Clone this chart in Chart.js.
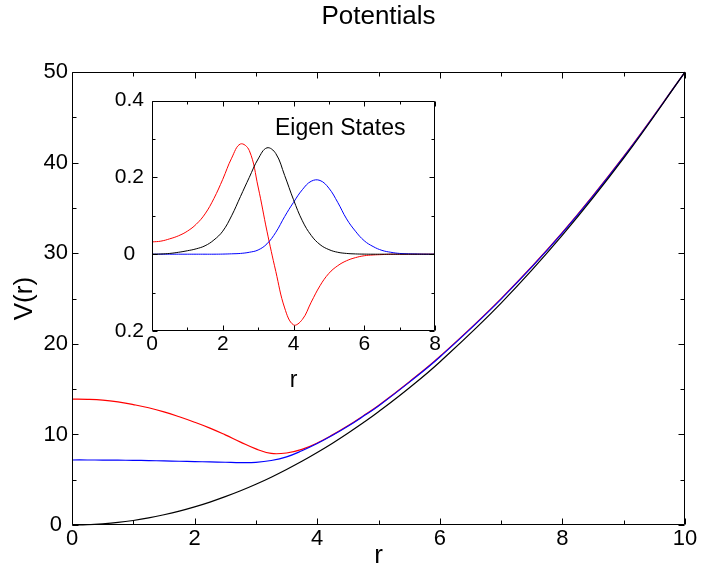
<!DOCTYPE html>
<html>
<head>
<meta charset="utf-8">
<script src="https://cdn.jsdelivr.net/npm/chart.js@4/dist/chart.umd.min.js"></script>
<style>
html,body{margin:0;padding:0;background:#fff;}
#wrap{position:relative;width:701px;height:571px;overflow:hidden;}
canvas{position:absolute;}
</style>
</head>
<body>
<div id="wrap">
<canvas id="main" width="701" height="571" style="left:0;top:0;"></canvas>
<canvas id="inset" width="360" height="320" style="left:90px;top:80px;"></canvas>
</div>
<script>
// ---------- Main chart data: potentials V(r) ----------
const rMain = [0, 0.25, 0.5, 0.75, 1, 1.25, 1.5, 1.75, 2, 2.25, 2.5, 2.75, 3, 3.25, 3.5, 3.75, 4, 4.25, 4.5, 4.75, 5, 5.5, 6, 7, 8, 9, 10];
const vBare = [0, 0.03, 0.13, 0.28, 0.5, 0.78, 1.13, 1.53, 2, 2.53, 3.13, 3.78, 4.5, 5.28, 6.13, 7.03, 8, 9.03, 10.13, 11.28, 12.5, 15.13, 18, 24.5, 32, 40.5, 50];
const vRed  = [13.9, 13.88, 13.8, 13.6, 13.3, 12.95, 12.5, 11.95, 11.35, 10.7, 9.95, 9.15, 8.4, 7.9, 7.95, 8.35, 9.05, 9.95, 10.95, 12.05, 13.2, 15.8, 18.6, 25.0, 32.3, 40.7, 50];
const vBlue = [7.18, 7.18, 7.17, 7.16, 7.14, 7.11, 7.08, 7.04, 7.0, 6.97, 6.93, 6.89, 6.92, 7.12, 7.52, 8.2, 9.0, 9.9, 10.9, 12.0, 13.15, 15.75, 18.55, 24.95, 32.25, 40.65, 50];
const mainXTicks = [0, 2, 4, 6, 8, 10];
const mainYTicks = [0, 10, 20, 30, 40, 50];

// ---------- Inset data: eigen states ----------
const rInset = [0, 0.25, 0.5, 0.75, 1, 1.25, 1.5, 1.75, 2, 2.25, 2.5, 2.75, 3, 3.25, 3.5, 3.75, 4, 4.25, 4.5, 4.75, 5, 5.25, 5.5, 5.75, 6, 6.25, 6.5, 6.75, 7, 7.25, 7.5, 7.75, 8];
const psiBlack = [0, 0.0005, 0.002, 0.005, 0.009, 0.014, 0.022, 0.037, 0.06, 0.1, 0.15, 0.2, 0.248, 0.277, 0.262, 0.205, 0.142, 0.087, 0.049, 0.025, 0.012, 0.005, 0.002, 0.0007, 0.0002, 0, 0, 0, 0, 0, 0, 0, 0];
const psiRed   = [0.032, 0.034, 0.040, 0.048, 0.06, 0.078, 0.105, 0.145, 0.195, 0.25, 0.287, 0.27, 0.175, 0.06, -0.045, -0.14, -0.184, -0.17, -0.125, -0.082, -0.05, -0.03, -0.017, -0.009, -0.004, -0.002, -0.001, 0, 0, 0, 0, 0, 0];
const psiBlue  = [0, 0, 0, 0, 0, 0, 0, 0, 0.0003, 0.001, 0.002, 0.005, 0.011, 0.027, 0.057, 0.098, 0.135, 0.168, 0.19, 0.192, 0.172, 0.135, 0.092, 0.06, 0.035, 0.02, 0.01, 0.005, 0.002, 0.001, 0.0005, 0, 0];
const insetXTicks = [0, 2, 4, 6, 8];
const insetYTickValues = [-0.2, 0, 0.2, 0.4];
const insetYTickLabels = ["0.2", "0", "0.2", "0.4"];

const FONT = '"Liberation Sans", Arial, Helvetica, sans-serif';
Chart.defaults.font.family = FONT;
Chart.defaults.color = '#000';

function pts(xs, ys) { return xs.map((x, i) => ({x: x, y: ys[i]})); }
function line(data, color, w) {
  return {data: data, borderColor: color, borderWidth: w, pointRadius: 0, fill: false,
          tension: 0.4, clip: false};
}

// Frame with inward major/minor ticks on all four sides
const frameTicks = {
  id: 'frameTicks',
  afterDatasetsDraw(chart, args, o) {
    const {ctx, chartArea: a, scales: {x, y}} = chart;
    const L = Math.round(a.left) + 0.5, R = Math.round(a.right) - 0.5;
    const T = Math.round(a.top) + 0.5, B = Math.round(a.bottom) - 0.5;
    ctx.save();
    ctx.strokeStyle = '#000';
    ctx.lineWidth = 1;
    ctx.beginPath();
    ctx.rect(L, T, R - L, B - T);
    const eps = 1e-9;
    for (let v = x.min; v <= x.max + eps; v += o.xMinor) {
      const isMajor = Math.abs(Math.round(v / o.xMajor) * o.xMajor - v) < 1e-6;
      const len = isMajor ? o.major : o.minor;
      const px = Math.round(x.getPixelForValue(v)) + 0.5;
      ctx.moveTo(px, B); ctx.lineTo(px, B - len);
      ctx.moveTo(px, T); ctx.lineTo(px, T + len);
    }
    for (let v = y.min; v <= y.max + eps; v += o.yMinor) {
      const isMajor = Math.abs(Math.round(v / o.yMajor) * o.yMajor - v) < 1e-6;
      const len = isMajor ? o.major : o.minor;
      const py = Math.round(y.getPixelForValue(v)) + 0.5;
      ctx.moveTo(L, py); ctx.lineTo(L + len, py);
      ctx.moveTo(R, py); ctx.lineTo(R - len, py);
    }
    ctx.stroke();
    ctx.restore();
  }
};

// ---------- Main chart ----------
new Chart(document.getElementById('main'), {
  type: 'line',
  data: {
    datasets: [
      line(pts(rMain, vBare), '#000000', 1.2),
      line(pts(rMain, vBlue), '#0000ff', 1.2),
      line(pts(rMain, vRed), '#ff0000', 1.2)
    ]
  },
  options: {
    responsive: false,
    animation: false,
    layout: {padding: {left: 0, right: 16, top: 0, bottom: 0}},
    plugins: {
      legend: {display: false},
      tooltip: {enabled: false},
      title: {display: true, text: 'Potentials', color: '#000', fullSize: false,
              font: {size: 26, weight: 'normal', family: FONT}, padding: {top: 1, bottom: 40}},
      frameTicks: {xMajor: 2, xMinor: 1, yMajor: 10, yMinor: 5, major: 6, minor: 4}
    },
    scales: {
      x: {
        type: 'linear', min: 0, max: 10,
        afterBuildTicks: s => { s.ticks = mainXTicks.map(v => ({value: v})); },
        ticks: {font: {size: 22}, padding: 1, maxRotation: 0, autoSkip: false, color: '#000'},
        grid: {display: false, drawTicks: false},
        border: {display: false},
        title: {display: true, text: 'r', font: {size: 26}, color: '#000', padding: {top: 0, bottom: 0}},
        afterFit: s => { s.height = 46; }
      },
      y: {
        type: 'linear', min: 0, max: 50,
        afterBuildTicks: s => { s.ticks = mainYTicks.map(v => ({value: v})); },
        ticks: {font: {size: 22}, padding: 4, crossAlign: 'center', color: '#000'},
        grid: {display: false, drawTicks: false},
        border: {display: false},
        title: {display: true, text: 'V(r)', font: {size: 26}, color: '#000', padding: {top: 9, bottom: 0}},
        afterFit: s => { s.width = 72; }
      }
    }
  },
  plugins: [frameTicks]
});

// ---------- Inset chart ----------
const insetLabel = {
  id: 'insetLabel',
  afterDraw(chart) {
    const {ctx, chartArea: a} = chart;
    ctx.save();
    ctx.font = '23px ' + FONT;
    ctx.fillStyle = '#000';
    ctx.textBaseline = 'alphabetic';
    ctx.textAlign = 'left';
    ctx.fillText('Eigen States', a.left + 123, a.top + 34);
    ctx.restore();
  }
};

new Chart(document.getElementById('inset'), {
  type: 'line',
  data: {
    datasets: [
      line(pts(rInset, psiBlack), '#000000', 1),
      line(pts(rInset, psiBlue), '#0000ff', 1),
      line(pts(rInset, psiRed), '#ff0000', 1)
    ]
  },
  options: {
    responsive: false,
    animation: false,
    layout: {padding: {left: 0, right: 15, top: 18, bottom: 0}},
    plugins: {
      legend: {display: false},
      tooltip: {enabled: false},
      frameTicks: {xMajor: 2, xMinor: 1, yMajor: 0.2, yMinor: 0.1, major: 5, minor: 3}
    },
    scales: {
      x: {
        type: 'linear', min: 0, max: 8,
        afterBuildTicks: s => { s.ticks = insetXTicks.map(v => ({value: v})); },
        ticks: {font: {size: 21}, padding: 1, maxRotation: 0, autoSkip: false, color: '#000'},
        grid: {display: false, drawTicks: false},
        border: {display: false},
        title: {display: true, text: 'r', font: {size: 23}, color: '#000', padding: {top: 0, bottom: 6}},
        afterFit: s => { s.height = 69; }
      },
      y: {
        type: 'linear', min: -0.2, max: 0.4,
        afterBuildTicks: s => { s.ticks = insetYTickValues.map(v => ({value: v})); },
        ticks: {font: {size: 21}, padding: 8, crossAlign: 'center', color: '#000',
          callback: v => {
            const i = insetYTickValues.findIndex(t => Math.abs(t - v) < 1e-9);
            return i >= 0 ? insetYTickLabels[i] : '';
          }},
        grid: {display: false, drawTicks: false},
        border: {display: false},
        afterFit: s => { s.width = 62; }
      }
    }
  },
  plugins: [frameTicks, insetLabel]
});
</script>
</body>
</html>
